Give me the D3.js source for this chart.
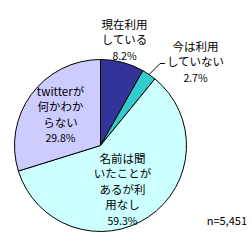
<!DOCTYPE html>
<html>
<head>
<meta charset="utf-8">
<script src="https://cdn.jsdelivr.net/npm/d3@7"></script>
<style>
  body { margin: 0; background: #fff; }
  text { font-family: "Noto Sans CJK JP", sans-serif; font-size: 11.5px; fill: #000; }
</style>
</head>
<body>
<div id="chart"></div>
<script>
// data
const categories = ["現在利用している", "今は利用していない", "名前は聞いたことがあるが利用なし", "twitterが何かわからない"];
const values = [8.2, 2.7, 59.3, 29.8];
const labelLines = [
    ["現在利用", "している"],
    ["今は利用", "していない"],
    ["名前は聞", "いたことが", "あるが利", "用なし"],
    ["twitterが", "何かわか", "らない"]
];
const colors = ["#333399", "#33cccc", "#ccffff", "#ccccff"];
const sampleNote = "n=5,451";

let width = 252, height = 241;
let cx = 100.5, cy = 145.5, radius = 86;

let svg = d3.select("#chart").append("svg")
    .attr("width", width)
    .attr("height", height);

let g = svg.append("g")
    .attr("transform", `translate(${cx}, ${cy})`);

let pie = d3.pie().sort(null).value(d => d);
let arcs = pie(values);

let arc = d3.arc().innerRadius(0).outerRadius(radius);

g.selectAll("path.slice")
    .data(arcs)
    .enter()
    .append("path")
    .attr("class", "slice")
    .attr("d", arc)
    .attr("fill", (d, i) => colors[i])
    .attr("stroke", "#000")
    .attr("stroke-width", 1);

// label placement (layout only): [x, y of first line] relative to pie centre
let labelLayout = [
    {x: 24, y: -117},
    {x: 95, y: -95},
    {x: 22, y: 17},
    {x: -40, y: -50}
];
let lineH = 15.5;

arcs.forEach((d, i) => {
    let lay = labelLayout[i];
    let t = g.append("text")
        .attr("text-anchor", "middle")
        .attr("x", lay.x)
        .attr("y", lay.y);
    let lines = labelLines[i].concat([values[i].toFixed(1) + "%"]);
    lines.forEach((ln, j) => {
        t.append("tspan")
            .attr("x", lay.x)
            .attr("dy", j === 0 ? 0 : lineH)
            .style("font-size", j === lines.length - 1 ? "10.5px" : null)
            .text(ln);
    });
});

// leader line for the small slice
let mid = (arcs[1].startAngle + arcs[1].endAngle) / 2;
let p0 = [Math.sin(mid) * radius, -Math.cos(mid) * radius];
g.append("polyline")
    .attr("points", [p0, [p0[0] + 11, p0[1] - 11], [p0[0] + 16, p0[1] - 11]].map(p => p.join(",")).join(" "))
    .attr("fill", "none")
    .attr("stroke", "#000")
    .attr("stroke-width", 1);

svg.append("text")
    .attr("x", 247)
    .attr("y", 225)
    .attr("text-anchor", "end")
    .style("font-size", "11px")
    .text(sampleNote);
</script>
</body>
</html>
